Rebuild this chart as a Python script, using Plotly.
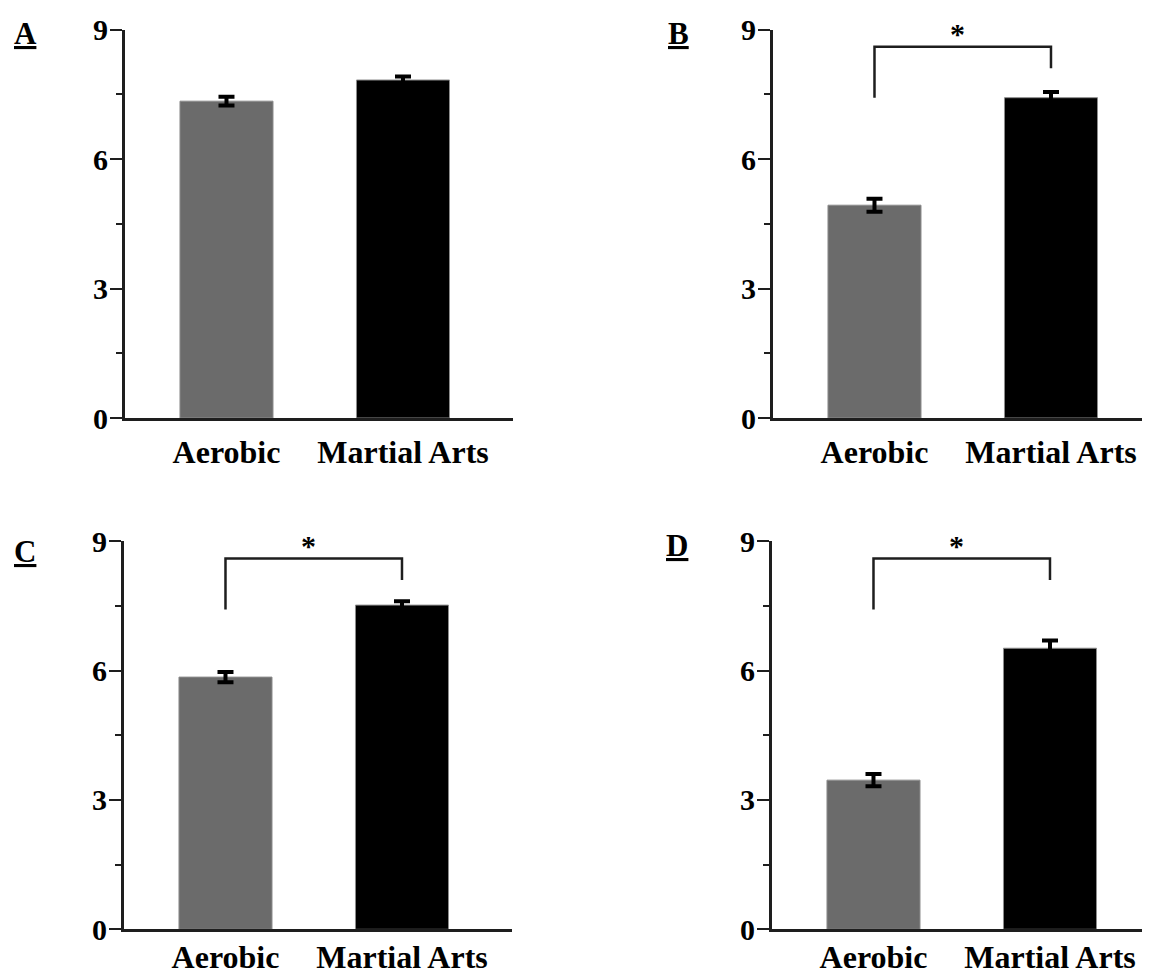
import plotly.graph_objects as go

# ---- data ----
categories = ["Aerobic", "Martial Arts"]
panel_labels = ["A", "B", "C", "D"]
values_A = [7.34, 7.83]
errors_A = [0.10, 0.08]
values_B = [4.93, 7.42]
errors_B = [0.15, 0.13]
values_C = [5.85, 7.52]
errors_C = [0.12, 0.09]
values_D = [3.46, 6.52]
errors_D = [0.14, 0.18]
significant = [False, True, True, True]
y_ticks = [0, 3, 6, 9]
# bracket levels (y in data units): left leg bottom, top, right leg bottom
bracket_left = 7.42
bracket_top = 8.6
bracket_right = 8.1
star_y = 8.9

values = [values_A, values_B, values_C, values_D]
errors = [errors_A, errors_B, errors_C, errors_D]

W, H = 1150, 976
OFF = 8  # page body margin of the html page
FONT = "Liberation Serif, Times New Roman, serif"
bar_colors = ["#6b6b6b", "#000000"]

fig = go.Figure()

# pixel layout of the panels (screen coordinates)
px_per_unit = 176.5
x_left_pad = 0.575
panels_px = [
    (125, 513, 29.5, 418),
    (773, 1150, 29.5, 418),
    (124, 512, 541.3, 929.3),
    (772, 1150, 541.3, 929.3),
]
label_standoff = [4, 4, -3, -3]
label_pos = [(25, 33), (678, 33), (25, 551), (677, 545)]

layout = dict(
    template="none",
    width=W, height=H,
    margin=dict(l=0, r=0, t=0, b=0, pad=0, autoexpand=False),
    paper_bgcolor="white", plot_bgcolor="white",
    showlegend=False,
    font=dict(family=FONT, size=30, color="black"),
)

shapes = []
annotations = []
for i in range(4):
    ax = "" if i == 0 else str(i + 1)
    xa, ya = "x" + ax, "y" + ax
    x0, x1, y0, y1 = panels_px[i]
    x0, x1, y0, y1 = x0 - OFF, x1 - OFF, y0 - OFF, y1 - OFF
    fig.add_trace(go.Bar(
        x=[0, 1], y=values[i], width=0.527,
        marker=dict(color=bar_colors, line=dict(color="#8c8c8c", width=1)),
        error_y=dict(type="data", array=errors[i], color="black",
                     thickness=4, width=8),
        xaxis=xa, yaxis=ya,
    ))
    xr = [-x_left_pad, -x_left_pad + (x1 - x0) / px_per_unit]
    layout["xaxis" + ax] = dict(
        domain=[x0 / W, x1 / W], range=xr, anchor=ya,
        automargin=False,
        showline=True, linewidth=3, linecolor="#1e1e1e",
        showgrid=False, zeroline=False, ticks="",
        tickvals=[0, 1], ticktext=categories,
        tickfont=dict(family=FONT, size=32, color="black", weight="bold"),
        ticklabelstandoff=label_standoff[i],
    )
    layout["yaxis" + ax] = dict(
        domain=[1 - y1 / H, 1 - y0 / H], range=[0, 9], anchor=xa,
        automargin=False,
        showline=True, linewidth=3, linecolor="#1e1e1e",
        showgrid=False, zeroline=False,
        ticks="outside", ticklen=12, tickwidth=2, tickcolor="#1e1e1e",
        tickvals=y_ticks,
        tickfont=dict(family=FONT, size=30, color="black", weight="bold"),
        ticklabelstandoff=-4,
        minor=dict(dtick=1.5, tick0=0, ticks="outside", ticklen=6,
                   tickwidth=2, tickcolor="#1e1e1e"),
    )
    if significant[i]:
        shapes.append(dict(
            type="path", xref=xa, yref=ya,
            path=f"M 0 {bracket_left} L 0 {bracket_top} L 1 {bracket_top} L 1 {bracket_right}",
            line=dict(color="#1e1e1e", width=2.5),
        ))
        annotations.append(dict(
            x=0.47, y=star_y, xref=xa, yref=ya, text="<b>*</b>",
            showarrow=False, font=dict(family=FONT, size=30, color="black"),
            yanchor="middle",
        ))
    lx, ly = label_pos[i]
    annotations.append(dict(
        x=(lx - OFF) / W, y=1 - (ly - OFF) / H, xref="paper", yref="paper",
        text=f"<b><u>{panel_labels[i]}</u></b>", showarrow=False,
        font=dict(family=FONT, size=31, color="black"),
        xanchor="center", yanchor="middle",
    ))

layout["shapes"] = shapes
layout["annotations"] = annotations
fig.update_layout(**layout)
fig.write_html("out.html")
